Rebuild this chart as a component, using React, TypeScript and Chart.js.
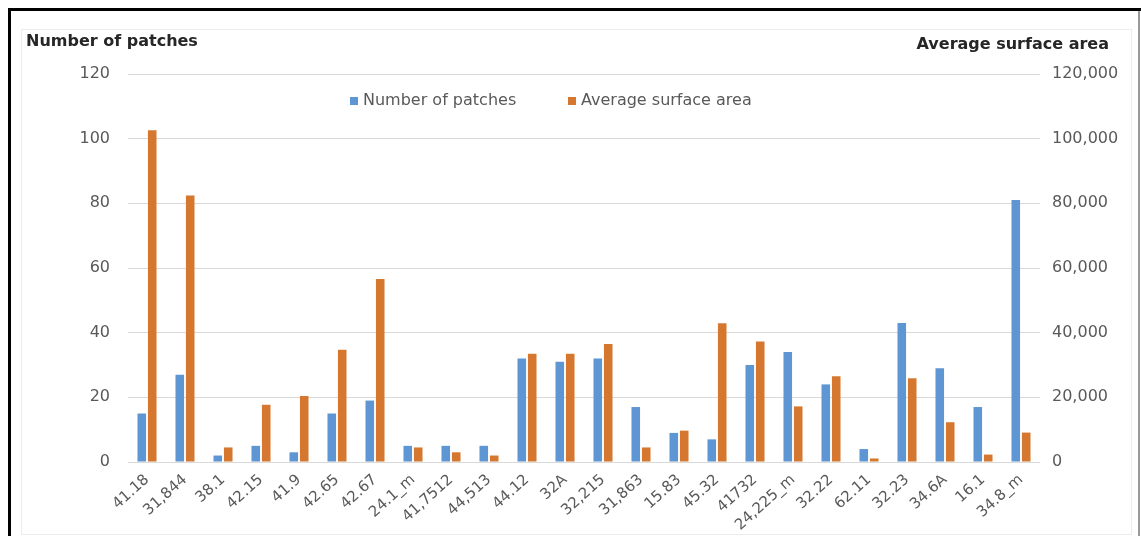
import React, { useEffect, useRef } from "react";
import { Chart, registerables } from "chart.js";

Chart.register(...registerables);

const categories = [
  "41.18", "31,844", "38.1", "42.15", "41.9", "42.65", "42.67", "24.1_m",
  "41,7512", "44,513", "44.12", "32A", "32,215", "31,863", "15.83", "45.32",
  "41732", "24,225_m", "32.22", "62.11", "32.23", "34.6A", "16.1", "34.8_m",
];

const numberOfPatches = [
  15, 27, 2, 5, 3, 15, 19, 5, 5, 5, 32, 31, 32, 17, 9, 7, 30, 34, 24, 4, 43, 29, 17, 81,
];

const averageSurfaceArea = [
  102600, 82400, 4500, 17700, 20400, 34700, 56600, 4500, 3000, 2000, 33500, 33500,
  36500, 4500, 9700, 42900, 37300, 17200, 26500, 1100, 25900, 12300, 2300, 9100,
];

const leftTitle = "Number of patches";
const rightTitle = "Average surface area";

const BLUE = "#5e95d3";
const ORANGE = "#d5772e";
const FONT = "'DejaVu Sans', sans-serif";

const decorPlugin = {
  id: "decor",
  beforeDraw(chart: any) {
    const ctx = chart.ctx;
    ctx.save();
    ctx.fillStyle = "#ffffff";
    ctx.fillRect(0, 0, chart.width, chart.height);
    // faint inner frame
    ctx.strokeStyle = "#ececec";
    ctx.lineWidth = 1;
    ctx.strokeRect(21.5, 29.5, 1110, 505);
    // outer black frame
    ctx.fillStyle = "#000000";
    ctx.fillRect(8, 8, chart.width - 8, 3);
    ctx.fillRect(8, 8, 3, chart.height - 8);
    ctx.fillStyle = "#9a9a9a";
    ctx.fillRect(1138, 11, 2, chart.height - 11);
    ctx.restore();
  },
  afterDraw(chart: any) {
    const ctx = chart.ctx;
    ctx.save();
    ctx.fillStyle = "#262626";
    ctx.font = `bold 16px ${FONT}`;
    ctx.textBaseline = "alphabetic";
    ctx.textAlign = "left";
    ctx.fillText(leftTitle, 26, 46);
    ctx.textAlign = "right";
    ctx.fillText(rightTitle, 1109, 49);

    // legend
    const ds = chart.data.datasets;
    const legendY = 101;
    const items = [
      { x: 350, label: ds[0].label, color: ds[0].backgroundColor },
      { x: 568, label: ds[1].label, color: ds[1].backgroundColor },
    ];
    ctx.font = `16px ${FONT}`;
    ctx.textAlign = "left";
    ctx.textBaseline = "middle";
    for (const it of items) {
      ctx.fillStyle = it.color;
      ctx.fillRect(it.x, legendY - 4, 8, 8);
      ctx.fillStyle = "#595959";
      ctx.fillText(it.label, it.x + 13, legendY);
    }
    ctx.restore();
  },
};

export default function App() {
  const canvasRef = useRef<HTMLCanvasElement | null>(null);

  useEffect(() => {
    if (!canvasRef.current) return;
    const chart = new Chart(canvasRef.current, {
      type: "bar",
      data: {
        labels: categories,
        datasets: [
          {
            label: "Number of patches",
            data: numberOfPatches,
            backgroundColor: BLUE,
            borderWidth: 0,
            yAxisID: "y",
            categoryPercentage: 0.55,
            barPercentage: 0.82,
          },
          {
            label: "Average surface area",
            data: averageSurfaceArea,
            backgroundColor: ORANGE,
            borderWidth: 0,
            yAxisID: "y1",
            categoryPercentage: 0.55,
            barPercentage: 0.82,
          },
        ],
      },
      options: {
        responsive: false,
        animation: false,
        devicePixelRatio: 1,
        layout: { padding: { top: 74, left: 0, right: 0, bottom: 0 } },
        plugins: {
          legend: { display: false },
          tooltip: { enabled: false },
          title: { display: false },
        },
        scales: {
          x: {
            type: "category",
            offset: true,
            grid: { display: false, drawTicks: false },
            border: { display: false },
            ticks: {
              autoSkip: false,
              minRotation: 42,
              maxRotation: 42,
              padding: 9,
              color: "#595959",
              font: { family: FONT, size: 15 },
            },
            afterFit(scale: any) {
              scale.height = 74;
            },
          },
          y: {
            type: "linear",
            position: "left",
            min: 0,
            max: 120,
            ticks: {
              stepSize: 20,
              padding: 18,
              color: "#595959",
              font: { family: FONT, size: 16 },
            },
            grid: { color: "#d9d9d9", lineWidth: 1, drawTicks: false },
            border: { display: false },
            afterFit(scale: any) {
              scale.width = 128;
            },
          },
          y1: {
            type: "linear",
            position: "right",
            min: 0,
            max: 120000,
            ticks: {
              stepSize: 20000,
              padding: 12,
              color: "#595959",
              font: { family: FONT, size: 16 },
              callback: (v: any) => Number(v).toLocaleString("en-US"),
            },
            grid: { drawOnChartArea: false, drawTicks: false },
            border: { display: false },
            afterFit(scale: any) {
              scale.width = 101;
            },
          },
        },
      },
      plugins: [decorPlugin],
    });
    return () => chart.destroy();
  }, []);

  return (
    <div style={{ position: "absolute", left: 0, top: 0, width: 1141, height: 536 }}>
      <canvas ref={canvasRef} width={1141} height={536} style={{ width: 1141, height: 536, display: "block" }} />
    </div>
  );
}
